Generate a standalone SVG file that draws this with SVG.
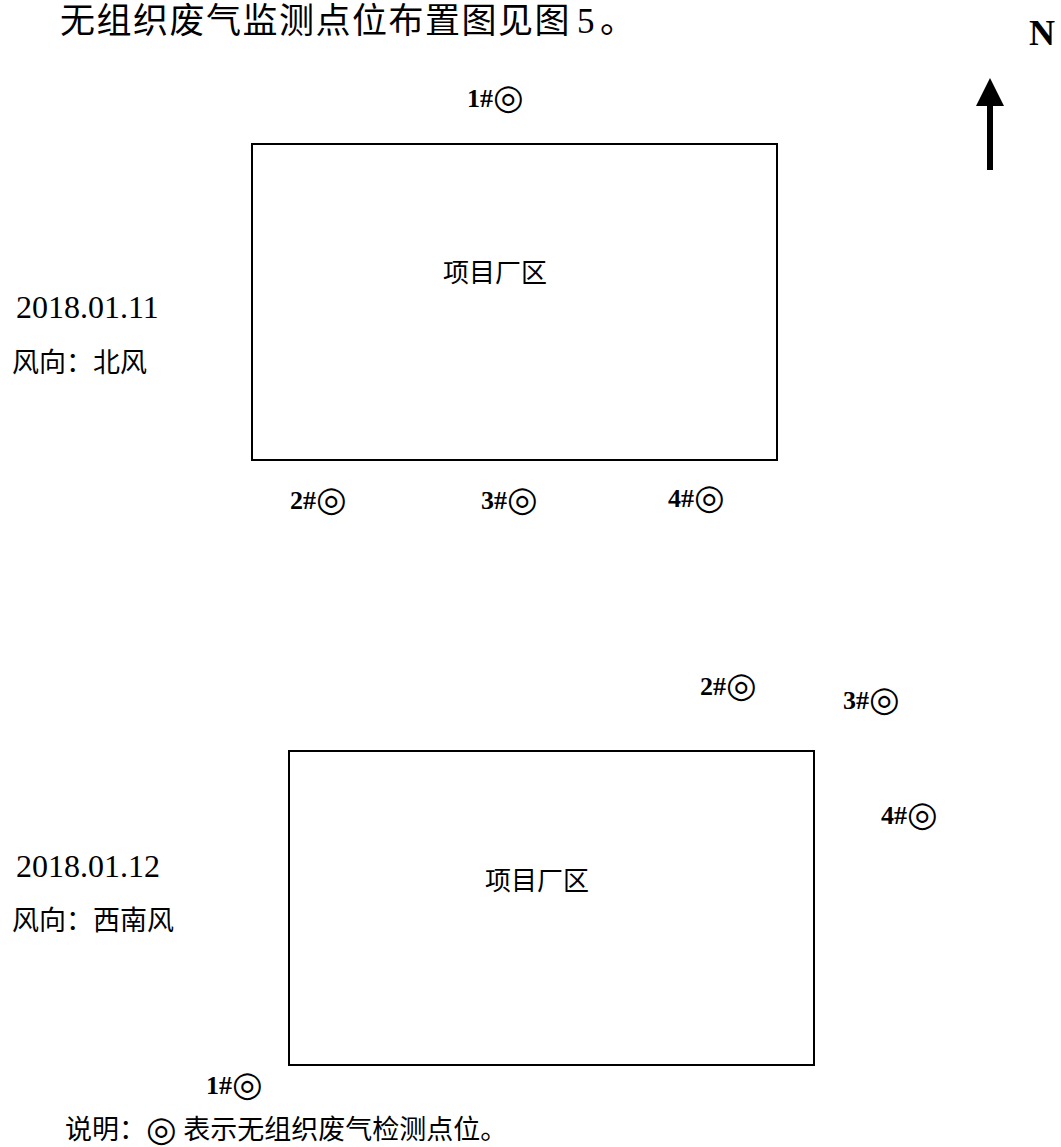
<svg xmlns="http://www.w3.org/2000/svg" width="1061" height="1147" viewBox="0 0 1061 1147">
<style>
.cjk{font-family:"Liberation Serif","Noto Sans CJK SC",serif;fill:#000}
.pt{font-family:"Liberation Serif","Noto Sans CJK SC",serif;font-weight:bold;font-size:26px;fill:#000}
.ring{font-family:"DejaVu Sans","Noto Sans CJK SC",sans-serif;font-size:35px;font-weight:bold}
.box{fill:none;stroke:#000;stroke-width:2}
.date{font-family:"Liberation Serif",serif;font-size:32px;fill:#000}
.wind{font-family:"Liberation Serif","Noto Sans CJK SC",serif;font-size:27px;fill:#000}
.area{font-family:"Liberation Serif","Noto Sans CJK SC",serif;font-size:26px;fill:#000}
</style>
<rect width="1061" height="1147" fill="#fff"/>
<g id="title">
<text class="cjk" x="60" y="33" font-size="35" letter-spacing="1.5">无组织废气监测点位布置图见图<tspan x="577">5</tspan><tspan x="600">。</tspan></text>
</g>
<g id="north">
<text x="1029" y="45" font-family="Liberation Serif, serif" font-weight="bold" font-size="36">N</text>
<polygon points="990,78 976,106 1004,106" fill="#000"/>
<line x1="990" y1="104" x2="990" y2="170" stroke="#000" stroke-width="6"/>
</g>
<g id="panel1">
<g id="box1"><rect class="box" x="252" y="144" width="525" height="316"/><text class="area" x="443" y="282">项目厂区</text></g>
<g id="p1-1"><text class="pt" x="467" y="107">1#<tspan class="ring" dy="2">◎</tspan></text></g>
<g id="p1-2"><text class="pt" x="290" y="509">2#<tspan class="ring" dy="2">◎</tspan></text></g>
<g id="p1-3"><text class="pt" x="481" y="509">3#<tspan class="ring" dy="2">◎</tspan></text></g>
<g id="p1-4"><text class="pt" x="668" y="507">4#<tspan class="ring" dy="2">◎</tspan></text></g>
<g id="info1"><text class="date" x="16" y="318">2018.01.11</text><text class="wind" x="12" y="372">风向：北风</text></g>
</g>
<g id="panel2">
<g id="box2"><rect class="box" x="289" y="751" width="525" height="314"/><text class="area" x="485" y="890">项目厂区</text></g>
<g id="p2-2"><text class="pt" x="700" y="695">2#<tspan class="ring" dy="2">◎</tspan></text></g>
<g id="p2-3"><text class="pt" x="843" y="709">3#<tspan class="ring" dy="2">◎</tspan></text></g>
<g id="p2-4"><text class="pt" x="881" y="824">4#<tspan class="ring" dy="2">◎</tspan></text></g>
<g id="p2-1"><text class="pt" x="206" y="1094">1#<tspan class="ring" dy="2">◎</tspan></text></g>
<g id="info2"><text class="date" x="16" y="877">2018.01.12</text><text class="wind" x="12" y="930">风向：西南风</text></g>
</g>
<g id="connectors"></g>
<g id="legend">
<text class="wind" x="65" y="1139">说明：<tspan class="ring" font-size="33" dy="2">◎</tspan><tspan dy="-2"> 表示无组织废气检测点位。</tspan></text>
</g>
</svg>
